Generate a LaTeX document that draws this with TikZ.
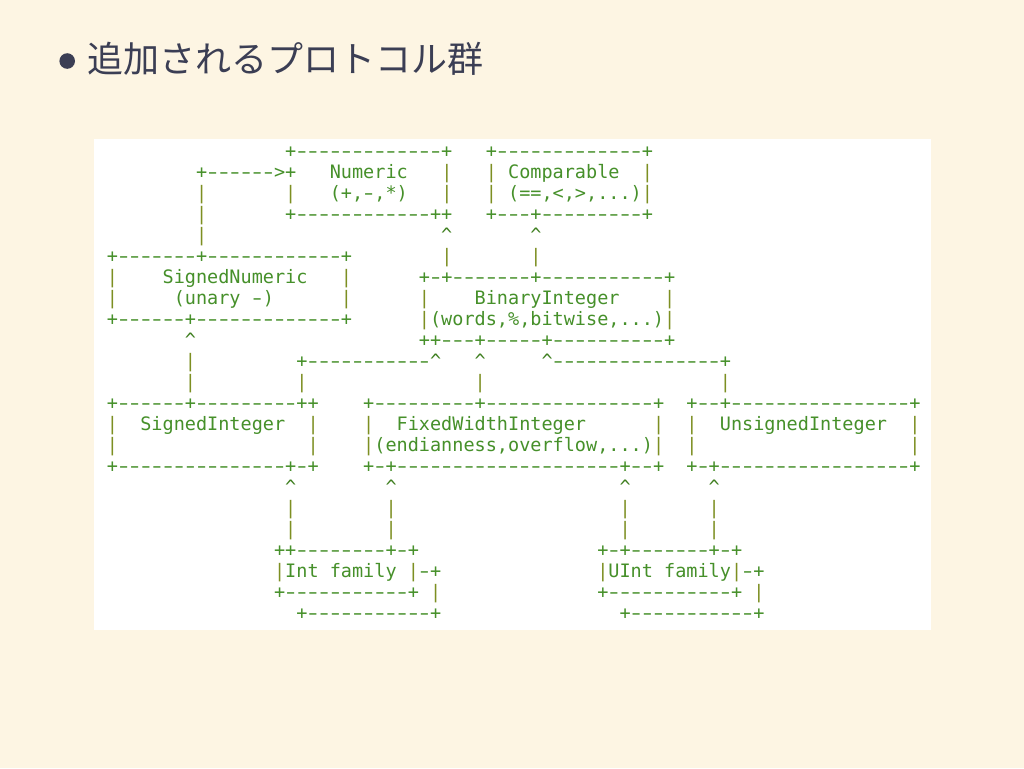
\documentclass[tikz,border=0pt]{standalone}
\usepackage{fontspec}
\usepackage{graphicx}
\newfontfamily\asciifont{DejaVu Sans Mono}
\newfontfamily\cjkfont{Noto Sans CJK JP}
\definecolor{pagebg}{HTML}{FDF5E3}
\definecolor{titlecol}{HTML}{3B3E54}
\definecolor{asciigreen}{HTML}{46902A}
\definecolor{barcol}{HTML}{7D8F22}
\definecolor{caretcol}{HTML}{3F7F20}
\newlength\Acw
\setlength{\Acw}{5.5725pt}
\newcount\Acnt
\newcommand\Aws[1]{\hspace*{#1\Acw}}
\newcommand\Adash{\makebox[\Acw]{\scalebox{1.5}[1]{-}}}
\newcommand\Ads[1]{\Acnt=0 \loop\ifnum\Acnt<#1 \Adash\advance\Acnt by 1 \repeat}
\newcommand\Avb{\textcolor{barcol}{|}}
\newcommand\Act{\textcolor{caretcol}{\textasciicircum}}
\newcommand\Asize{\fontsize{9.256pt}{10pt}\selectfont}
\tikzset{
  asc/.style={anchor=base west, inner sep=0pt, outer sep=0pt, text=asciigreen, font=\asciifont\Asize},
}
\begin{document}
\begin{tikzpicture}[x=0.5pt, y=-0.5pt]
\useasboundingbox (0,0) rectangle (1024,768);
\fill[pagebg] (0,0) rectangle (1024,768);
\fill[white] (94,139) rectangle (931,630);
% title
\node[circle, fill=titlecol, minimum size=7.8pt, inner sep=0pt] (bullet) at (67.2,61) {};
\node[anchor=west, inner sep=0pt, text=titlecol, font=\cjkfont\fontsize{18pt}{20pt}\selectfont] (title) at (87,58.5) {追加されるプロトコル群};
% ascii art lines
\node[asc] (l1)  at (106.9,157.5) {\Aws{16}+\Ads{13}+\Aws{3}+\Ads{13}+};
\node[asc] (l2)  at (106.9,178.5) {\Aws{8}+\Ads{6}>+\Aws{3}Numeric\Aws{3}\Avb\Aws{3}\Avb\Aws{1}Comparable\Aws{2}\Avb};
\node[asc] (l3)  at (106.9,199.5) {\Aws{8}\Avb\Aws{7}\Avb\Aws{3}(+,\Adash,*)\Aws{3}\Avb\Aws{3}\Avb\Aws{1}(==,<,>,...)\Avb};
\node[asc] (l4)  at (106.9,220.5) {\Aws{8}\Avb\Aws{7}+\Ads{12}++\Aws{3}+\Ads{3}+\Ads{9}+};
\node[asc] (l5)  at (106.9,241.5) {\Aws{8}\Avb\Aws{21}\Act\Aws{7}\Act};
\node[asc] (l6)  at (106.9,262.5) {+\Ads{7}+\Ads{12}+\Aws{8}\Avb\Aws{7}\Avb};
\node[asc] (l7)  at (106.9,283.5) {\Avb\Aws{4}SignedNumeric\Aws{3}\Avb\Aws{6}+\Adash+\Ads{7}+\Ads{11}+};
\node[asc] (l8)  at (106.9,304.5) {\Avb\Aws{5}(unary\Aws{1}\Adash)\Aws{6}\Avb\Aws{6}\Avb\Aws{4}BinaryInteger\Aws{4}\Avb};
\node[asc] (l9)  at (106.9,325.5) {+\Ads{6}+\Ads{13}+\Aws{6}\Avb(words,\%,bitwise,...)\Avb};
\node[asc] (l10) at (106.9,346.5) {\Aws{7}\Act\Aws{20}++\Ads{3}+\Ads{5}+\Ads{10}+};
\node[asc] (l11) at (106.9,367.5) {\Aws{7}\Avb\Aws{9}+\Ads{11}\Act\Aws{3}\Act\Aws{5}\Act\Ads{15}+};
\node[asc] (l12) at (106.9,388.5) {\Aws{7}\Avb\Aws{9}\Avb\Aws{15}\Avb\Aws{21}\Avb};
\node[asc] (l13) at (106.9,409.5) {+\Ads{6}+\Ads{9}++\Aws{4}+\Ads{9}+\Ads{15}+\Aws{2}+\Ads{2}+\Ads{16}+};
\node[asc] (l14) at (106.9,430.5) {\Avb\Aws{2}SignedInteger\Aws{2}\Avb\Aws{4}\Avb\Aws{2}FixedWidthInteger\Aws{6}\Avb\Aws{2}\Avb\Aws{2}UnsignedInteger\Aws{2}\Avb};
\node[asc] (l15) at (106.9,451.5) {\Avb\Aws{17}\Avb\Aws{4}\Avb(endianness,overflow,...)\Avb\Aws{2}\Avb\Aws{19}\Avb};
\node[asc] (l16) at (106.9,472.5) {+\Ads{15}+\Adash+\Aws{4}+\Adash+\Ads{20}+\Ads{2}+\Aws{2}+\Adash+\Ads{17}+};
\node[asc] (l17) at (106.9,493.5) {\Aws{16}\Act\Aws{8}\Act\Aws{20}\Act\Aws{7}\Act};
\node[asc] (l18) at (106.9,514.5) {\Aws{16}\Avb\Aws{8}\Avb\Aws{20}\Avb\Aws{7}\Avb};
\node[asc] (l19) at (106.9,535.5) {\Aws{16}\Avb\Aws{8}\Avb\Aws{20}\Avb\Aws{7}\Avb};
\node[asc] (l20) at (106.9,556.5) {\Aws{15}++\Ads{8}+\Adash+\Aws{16}+\Adash+\Ads{7}+\Adash+};
\node[asc] (l21) at (106.9,577.5) {\Aws{15}\Avb Int\Aws{1}family\Aws{1}\Avb\Adash+\Aws{14}\Avb UInt\Aws{1}family\Avb\Adash+};
\node[asc] (l22) at (106.9,598.5) {\Aws{15}+\Ads{11}+\Aws{1}\Avb\Aws{14}+\Ads{11}+\Aws{1}\Avb};
\node[asc] (l23) at (106.9,619.5) {\Aws{17}+\Ads{11}+\Aws{16}+\Ads{11}+};
\end{tikzpicture}
\end{document}
